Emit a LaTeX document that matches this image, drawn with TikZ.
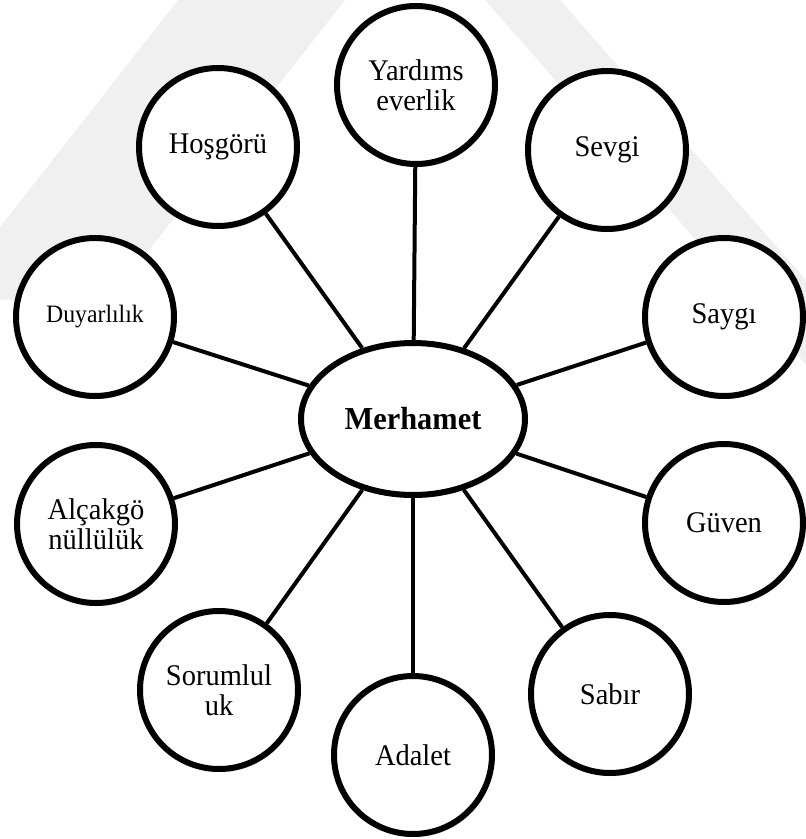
\documentclass[tikz,border=0pt]{standalone}
\usepackage{fontspec}
\setmainfont{Liberation Serif}[FakeStretch=0.95]
\usetikzlibrary{shapes.geometric,shadows}
\begin{document}
\begin{tikzpicture}[x=1pt,y=-1pt,
  softshadow/.style={drop shadow={shadow xshift=1.5pt, shadow yshift=-3pt, opacity=0.22, fill=black}},
  bubble/.style={circle, draw=black, line width=6pt, fill=white, minimum size=158pt, inner sep=0pt, align=center, font=\fontsize{30}{30}\selectfont, softshadow},
  hub/.style={ellipse, draw=black, line width=6pt, fill=white, minimum width=224pt, minimum height=152pt, inner sep=0pt, font=\fontsize{32}{35}\selectfont\bfseries, softshadow},
  link/.style={line width=4pt},
  wmark/.style={fill=black!6, draw=none}]
\useasboundingbox (0,0) rectangle (806,839);
\begin{scope}
\clip (0,0) rectangle (806,839);
\fill[wmark] (178,0) -- (345,0) -- (110,300) -- (-57,300) -- cycle;
\fill[wmark] (485,0) -- (560,0) -- (806,280) -- (806,365) -- cycle;
\end{scope}
\node[hub] (M) at (413,419) {Merhamet};
\node[bubble] (Y) at (416,85) {Yardıms\\everlik};
\node[bubble] (Ho) at (218,147) {Hoşgörü};
\node[bubble] (Se) at (607,150) {Sevgi};
\node[bubble, font=\fontsize{25}{27}\selectfont] (Du) at (95,317) {Duyarlılık};
\node[bubble] (Sa) at (724,317) {Saygı};
\node[bubble] (Al) at (96,524) {Alçakgö\\nüllülük};
\node[bubble] (Gu) at (724,523) {Güven};
\node[bubble] (So) at (219,690) {Sorumlul\\uk};
\node[bubble] (Ad) at (413,755) {Adalet};
\node[bubble] (Sb) at (610,694) {Sabır};
\foreach \n in {Y,Ho,Se,Du,Sa,Al,Gu,So,Ad,Sb}{
  \draw[link] (M) -- (\n);
}
\end{tikzpicture}
\end{document}
